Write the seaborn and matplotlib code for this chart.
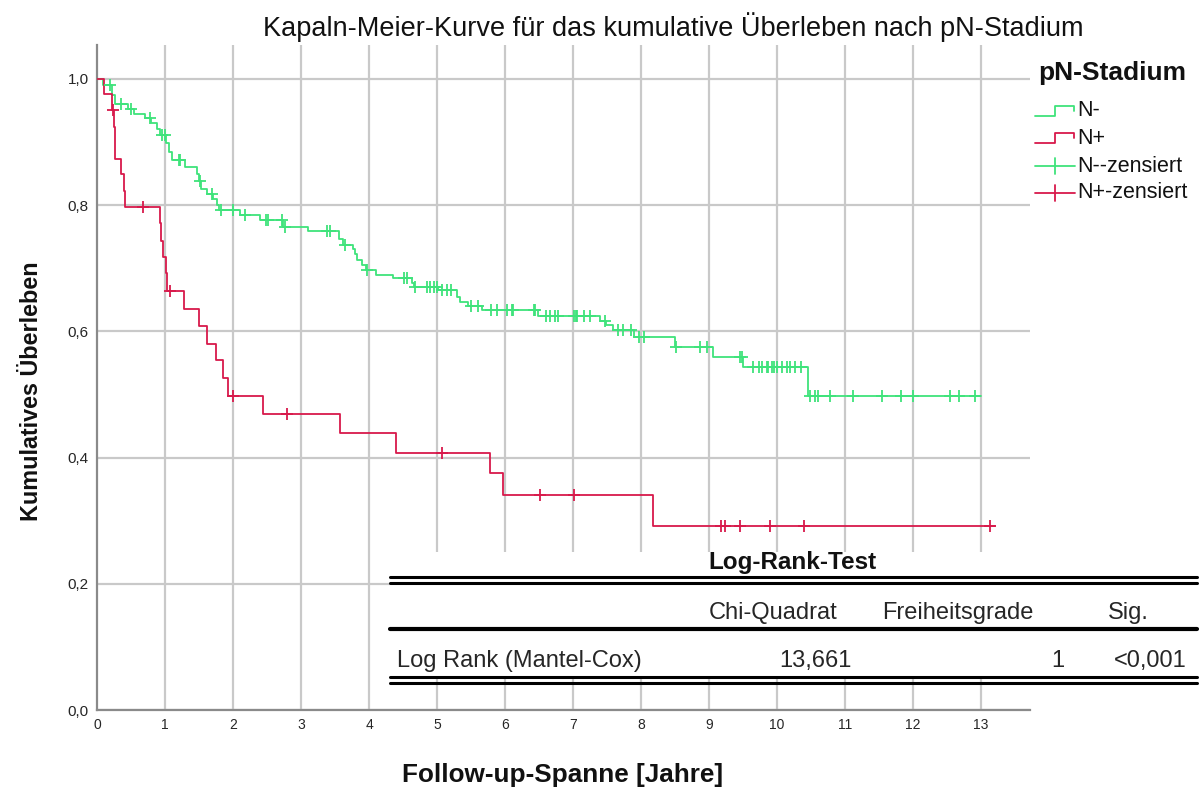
import numpy as np
import pandas as pd
import matplotlib
matplotlib.use("Agg")
import matplotlib.pyplot as plt
from matplotlib.lines import Line2D
from matplotlib.patches import Rectangle
import seaborn as sns

# ---------------- data ----------------
groups = ["N-", "N+"]

# N- (green) step function: event times and survival after each step
nminus_time = [0.00, 0.09, 0.22, 0.26, 0.45, 0.55, 0.70, 0.80, 0.88, 0.93, 1.02, 1.06, 1.10,
               1.30, 1.47, 1.50, 1.53, 1.62, 1.70, 1.76, 1.80, 2.10, 2.40, 2.74, 3.11, 3.56,
               3.62, 3.77, 3.80, 3.82, 3.89, 3.95, 4.11, 4.36, 4.63, 4.66, 5.02, 5.29, 5.34,
               5.46, 5.66, 6.49, 7.40, 7.48, 7.59, 7.89, 8.50, 9.06, 9.50, 10.46]
nminus_surv = [1.000, 0.990, 0.975, 0.961, 0.952, 0.945, 0.938, 0.930, 0.921, 0.911, 0.898,
               0.885, 0.871, 0.861, 0.850, 0.838, 0.826, 0.818, 0.810, 0.800, 0.793, 0.784,
               0.776, 0.766, 0.759, 0.747, 0.737, 0.731, 0.722, 0.713, 0.705, 0.697, 0.689,
               0.684, 0.677, 0.670, 0.665, 0.654, 0.647, 0.641, 0.634, 0.625, 0.617, 0.610,
               0.603, 0.591, 0.575, 0.560, 0.543, 0.498]
nminus_end = 13.0
nminus_censor = [0.19, 0.36, 0.50, 0.78, 0.95, 1.00, 1.20, 1.22, 1.51, 1.69, 1.82, 2.00, 2.17,
                 2.48, 2.52, 2.72, 2.76, 3.38, 3.43, 3.65, 3.97, 4.51, 4.56, 4.68, 4.86, 4.90,
                 4.95, 5.00, 5.07, 5.14, 5.21, 5.50, 5.60, 5.79, 5.88, 6.03, 6.10, 6.12, 6.42,
                 6.44, 6.61, 6.66, 6.74, 6.78, 7.02, 7.04, 7.06, 7.16, 7.25, 7.47, 7.66, 7.74,
                 7.86, 7.97, 8.04, 8.52, 8.87, 8.97, 9.46, 9.48, 9.65, 9.73, 9.78, 9.85, 9.87,
                 9.92, 9.95, 10.00, 10.07, 10.14, 10.19, 10.27, 10.36, 10.48, 10.56, 10.60,
                 10.78, 11.12, 11.55, 11.82, 12.00, 12.55, 12.68, 12.91]

# N+ (red)
nplus_time = [0.00, 0.10, 0.22, 0.25, 0.26, 0.27, 0.36, 0.39, 0.41, 0.92, 0.94, 0.97, 1.015,
              1.03, 1.28, 1.50, 1.62, 1.745, 1.86, 1.93, 2.44, 3.57, 4.39, 5.78, 5.975, 8.18]
nplus_surv = [1.000, 0.977, 0.951, 0.924, 0.898, 0.874, 0.849, 0.822, 0.797, 0.771, 0.744,
              0.718, 0.692, 0.664, 0.636, 0.608, 0.580, 0.554, 0.526, 0.498, 0.469, 0.439,
              0.407, 0.375, 0.340, 0.292]
nplus_end = 13.2
nplus_censor = [0.23, 0.67, 1.07, 2.00, 2.80, 5.07, 6.52, 7.01, 9.18, 9.23, 9.45, 9.90, 10.40, 13.13]

x_ticks = list(range(0, 14))
y_ticks = [0.0, 0.2, 0.4, 0.6, 0.8, 1.0]
y_ticklabels = ["0,0", "0,2", "0,4", "0,6", "0,8", "1,0"]

table_title = "Log-Rank-Test"
table_header = ["Chi-Quadrat", "Freiheitsgrade", "Sig."]
table_row = ["Log Rank (Mantel-Cox)", "13,661", "1", "<0,001"]

legend_title = "pN-Stadium"
legend_labels = ["N-", "N+", "N--zensiert", "N+-zensiert"]

GREEN = "#3fe37b"
RED = "#d8194b"
palette = {"N-": GREEN, "N+": RED}

# ---------------- build frames ----------------
def step_frame(name, times, surv, end):
    t = list(times) + [end]
    s = list(surv) + [surv[-1]]
    return pd.DataFrame({"t": t, "S": s, "group": name})

def censor_frame(name, times, surv, ctimes):
    idx = np.searchsorted(np.asarray(times), np.asarray(ctimes), side="right") - 1
    return pd.DataFrame({"t": ctimes, "S": np.asarray(surv)[idx], "group": name})

steps = pd.concat([step_frame("N-", nminus_time, nminus_surv, nminus_end),
                   step_frame("N+", nplus_time, nplus_surv, nplus_end)], ignore_index=True)
cens = pd.concat([censor_frame("N-", nminus_time, nminus_surv, nminus_censor),
                  censor_frame("N+", nplus_time, nplus_surv, nplus_censor)], ignore_index=True)

# ---------------- figure ----------------
sns.set_style("white")
plt.rcParams["font.family"] = ["Liberation Sans", "DejaVu Sans"]

W, H = 1199, 790
fig = plt.figure(figsize=(W / 100, H / 100), dpi=100)

def fx(x):
    return x / W

def fy(y):
    return 1 - y / H

ax = fig.add_axes([fx(97), fy(710), (1030 - 97) / W, (710 - 45) / H])
ax.set_xlim(0, (1030 - 97) / 68.0)
ax.set_ylim(0, (710 - 45) / 631.0)

# grid
for xv in x_ticks[1:]:
    ax.axvline(xv, color="#c9c9c9", lw=1.6, zorder=0)
for yv in y_ticks:
    ax.axhline(yv, color="#c9c9c9", lw=1.6, zorder=0)

for g in groups:
    sub = steps[steps["group"] == g]
    sns.lineplot(data=sub, x="t", y="S", color=palette[g], drawstyle="steps-post",
                 estimator=None, sort=False, lw=1.3, ax=ax, legend=False, zorder=3)
for g in groups:
    sub = cens[cens["group"] == g]
    sns.scatterplot(data=sub, x="t", y="S", color=palette[g], marker="+", s=85,
                    linewidth=1.3, ax=ax, legend=False, zorder=4)

ax.set_xticks(x_ticks)
ax.set_xticklabels([str(v) for v in x_ticks], fontsize=10)
ax.set_yticks(y_ticks)
ax.set_yticklabels(y_ticklabels, fontsize=11)
ax.tick_params(axis="both", length=0, pad=6)
ax.set_xlabel("")
ax.set_ylabel("")
for sp in ["top", "right"]:
    ax.spines[sp].set_visible(False)
for sp in ["left", "bottom"]:
    ax.spines[sp].set_color("#8a8a8a")
    ax.spines[sp].set_linewidth(1.6)

# titles
fig.text(fx(673), fy(27), "Kapaln-Meier-Kurve für das kumulative Überleben nach pN-Stadium",
         ha="center", va="center", fontsize=19.5, color="#111111")
fig.text(fx(32), fy(391), "Kumulatives Überleben", rotation=90, ha="center", va="center",
         fontsize=16.8, fontweight="bold", color="#111111")
fig.text(fx(563), fy(775), "Follow-up-Spanne [Jahre]", ha="center", va="center",
         fontsize=18.8, fontweight="bold", color="#111111")

# legend (manual)
fig.text(fx(1038), fy(73), legend_title, ha="left", va="center", fontsize=19,
         fontweight="bold", color="#111111")
leg_y = [111, 138, 166, 193]
leg_col = [GREEN, RED, GREEN, RED]
for i, (lab, yy, col) in enumerate(zip(legend_labels, leg_y, leg_col)):
    if i < 2:
        xs = [1035, 1055, 1055, 1074, 1074]
        ys = [yy + 5, yy + 5, yy - 5, yy - 5, yy]
        fig.add_artist(Line2D([fx(v) for v in xs], [fy(v) for v in ys], color=col, lw=1.3,
                              transform=fig.transFigure))
    else:
        fig.add_artist(Line2D([fx(1035), fx(1075)], [fy(yy), fy(yy)], color=col, lw=1.3,
                              transform=fig.transFigure))
        fig.add_artist(Line2D([fx(1055), fx(1055)], [fy(yy - 8), fy(yy + 8)], color=col,
                              lw=1.3, transform=fig.transFigure))
    fig.text(fx(1077), fy(yy), lab, ha="left", va="center", fontsize=15.5, color="#111111")

# table
fig.add_artist(Rectangle((fx(390), fy(676)), fx(1199) - fx(390), fy(552) - fy(676),
                         transform=fig.transFigure, facecolor="white", edgecolor="none",
                         zorder=5))
fig.text(fx(792), fy(562), table_title, ha="center", va="center", fontsize=17.5,
         fontweight="bold", color="#111111", zorder=6)
def hline(y, lw):
    fig.add_artist(Line2D([fx(390), fx(1197)], [fy(y), fy(y)], color="black", lw=lw,
                          transform=fig.transFigure, zorder=6))
hline(576.5, 2.2)
hline(582.5, 2.2)
hline(628.5, 3.0)
hline(676.5, 2.2)
hline(682.5, 2.2)
fs = 17
fig.text(fx(773), fy(613), table_header[0], ha="center", va="center", fontsize=fs, zorder=6)
fig.text(fx(958), fy(613), table_header[1], ha="center", va="center", fontsize=fs, zorder=6)
fig.text(fx(1128), fy(613), table_header[2], ha="center", va="center", fontsize=fs, zorder=6)
fig.text(fx(397), fy(661), table_row[0], ha="left", va="center", fontsize=fs, zorder=6)
fig.text(fx(852), fy(661), table_row[1], ha="right", va="center", fontsize=fs, zorder=6)
fig.text(fx(1064), fy(661), table_row[2], ha="right", va="center", fontsize=fs, zorder=6)
fig.text(fx(1187), fy(661), table_row[3], ha="right", va="center", fontsize=fs, zorder=6)

fig.savefig("out.png", dpi=100, facecolor="white")
